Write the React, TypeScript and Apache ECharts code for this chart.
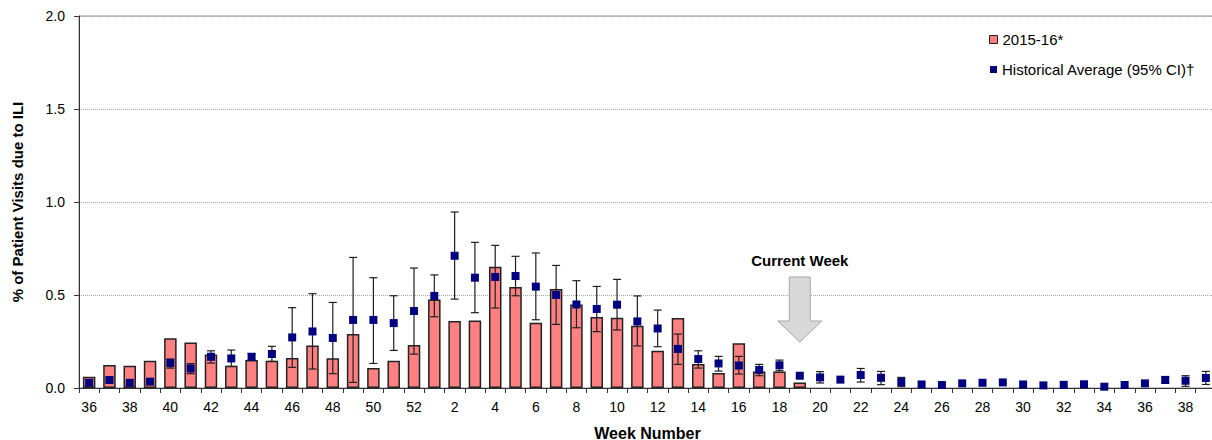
import React, { useEffect, useRef } from "react";
import * as echarts from "echarts";

const FONT = "'Liberation Sans', Arial, sans-serif";

// Week numbers: 2015 weeks 36-52, then 2016 weeks 1-39
const weeks: number[] = [
  36, 37, 38, 39, 40, 41, 42, 43, 44, 45, 46, 47, 48, 49, 50, 51, 52,
  1, 2, 3, 4, 5, 6, 7, 8, 9, 10, 11, 12, 13, 14, 15, 16, 17, 18, 19, 20,
  21, 22, 23, 24, 25, 26, 27, 28, 29, 30, 31, 32, 33, 34, 35, 36, 37, 38, 39,
];
const categories: string[] = weeks.map((w, i) => (i < 17 ? `2015-W${w}` : `2016-W${w}`));

// 2015-16 season (% of visits due to ILI)
const season: (number | null)[] = [
  0.06, 0.124, 0.12, 0.147, 0.267, 0.245, 0.18, 0.12, 0.15, 0.147, 0.161, 0.229, 0.16, 0.29, 0.107, 0.147, 0.231,
  0.476, 0.36, 0.363, 0.652, 0.543, 0.351, 0.532, 0.449, 0.382, 0.378, 0.335, 0.2, 0.376, 0.129, 0.081, 0.24,
  0.089, 0.089, 0.029,
  null, null, null, null, null, null, null, null, null, null, null, null, null, null, null, null, null, null, null, null,
];

// Historical average
const histAvg: number[] = [
  0.028, 0.043, 0.028, 0.034, 0.134, 0.105, 0.168, 0.159, 0.168, 0.183, 0.272, 0.304, 0.269, 0.366, 0.366, 0.349, 0.414,
  0.495, 0.711, 0.593, 0.597, 0.602, 0.545, 0.5, 0.449, 0.425, 0.448, 0.358, 0.32, 0.21, 0.156, 0.132, 0.121, 0.097,
  0.122, 0.066, 0.057, 0.045, 0.07, 0.055, 0.032, 0.019, 0.016, 0.025, 0.028, 0.03, 0.019, 0.014, 0.017, 0.02, 0.007,
  0.016, 0.025, 0.043, 0.039, 0.054,
];

// 95% CI lower / upper bounds (null = not shown)
const ciLow: (number | null)[] = [
  null, 0.03, null, null, 0.107, 0.077, 0.134, 0.116, 0.152, 0.143, 0.111, 0.102, 0.077, 0.03, 0.132, 0.202, 0.182,
  0.383, 0.478, 0.405, 0.43, 0.496, 0.367, 0.342, 0.324, 0.303, 0.312, 0.226, 0.222, 0.127, 0.107, 0.091, 0.075, 0.066,
  0.093, null, 0.027, null, 0.032, 0.018, 0.007, null, null, null, null, null, null, null, null, null, null,
  null, null, 0.025, 0.009, 0.019,
];
const ciHigh: (number | null)[] = [
  null, 0.058, null, null, 0.156, 0.131, 0.2, 0.204, 0.184, 0.224, 0.432, 0.507, 0.46, 0.702, 0.593, 0.496, 0.645,
  0.608, 0.946, 0.783, 0.767, 0.708, 0.726, 0.659, 0.577, 0.546, 0.584, 0.495, 0.419, 0.29, 0.2, 0.17, 0.17, 0.127,
  0.15, null, 0.088, null, 0.105, 0.089, 0.057, null, null, null, null, null, null, null, null, null, null,
  null, null, 0.062, 0.066, 0.089,
];

const yTicks = [0, 0.5, 1.0, 1.5, 2.0];
const currentWeekIndex = 35; // 2016 week 19

const SEASON_NAME = "2015-16*";
const HIST_NAME = "Historical Average (95% CI)\u2020";

export default function App() {
  const ref = useRef<HTMLDivElement>(null);

  useEffect(() => {
    if (!ref.current) return;
    const chart = echarts.init(ref.current, undefined, { renderer: "svg" });

    const ciData: number[][] = [];
    ciLow.forEach((lo, i) => {
      const hi = ciHigh[i];
      if (lo != null && hi != null) ciData.push([i, lo, hi]);
    });

    const option: any = {
      animation: false,
      textStyle: { fontFamily: FONT },
      grid: {
        left: 79,
        right: -4,
        top: 16,
        bottom: 52,
        outerBoundsMode: "none",
        containLabel: false,
        show: true,
        borderColor: "#8c8c8c",
        borderWidth: 1,
        backgroundColor: "transparent",
      },
      legend: [
        {
          orient: "vertical",
          left: 989,
          top: 32,
          padding: 0,
          itemWidth: 8,
          itemHeight: 8,
          icon: "rect",
          textStyle: { fontSize: 15, color: "#000", fontFamily: FONT },
          data: [
            {
              name: SEASON_NAME,
              itemStyle: { color: "#FF8080", borderColor: "#222", borderWidth: 1 },
            },
          ],
        },
        {
          orient: "vertical",
          left: 990,
          top: 62,
          padding: 0,
          itemWidth: 7,
          itemHeight: 7,
          icon: "rect",
          textStyle: { fontSize: 15, color: "#000", fontFamily: FONT },
          data: [{ name: HIST_NAME, itemStyle: { color: "#000080", borderWidth: 0 } }],
        },
      ],
      xAxis: {
        type: "category",
        data: categories,
        boundaryGap: true,
        axisLine: { show: true, lineStyle: { color: "#333", width: 1 } },
        axisTick: { show: true, interval: 0, length: 5, lineStyle: { color: "#333" } },
        axisLabel: {
          interval: 1,
          formatter: (_v: string, i: number) => String(weeks[i]),
          fontSize: 14,
          color: "#000",
          margin: 12,
          fontFamily: FONT,
        },
        splitLine: { show: false },
        name: "Week Number",
        nameLocation: "middle",
        nameGap: 37,
        nameTextStyle: { fontSize: 16, fontWeight: "bold", color: "#000", fontFamily: FONT },
      },
      yAxis: {
        type: "value",
        min: yTicks[0],
        max: yTicks[yTicks.length - 1],
        interval: 0.5,
        axisLine: { show: true, lineStyle: { color: "#333", width: 1 } },
        axisTick: { show: true, length: 5, lineStyle: { color: "#333" } },
        axisLabel: {
          formatter: (v: number) => v.toFixed(1),
          fontSize: 14,
          color: "#000",
          margin: 14,
          fontFamily: FONT,
        },
        splitLine: { show: true, lineStyle: { color: "#a8a8a8", type: [1, 1], width: 1 } },
        name: "% of Patient Visits due to ILI",
        nameLocation: "middle",
        nameGap: 54,
        nameTextStyle: { fontSize: 15, fontWeight: "bold", color: "#000", fontFamily: FONT },
      },
      series: [
        {
          name: SEASON_NAME,
          type: "bar",
          data: season,
          barWidth: 12.5,
          z: 2,
          itemStyle: { color: "#FF8080", borderColor: "#222", borderWidth: 1.5 },
        },
        {
          name: "CI",
          type: "custom",
          z: 3,
          data: ciData,
          encode: { x: 0, y: [1, 2] },
          renderItem: (_params: any, api: any) => {
            const idx = api.value(0);
            const lo = api.coord([idx, api.value(1)]);
            const hi = api.coord([idx, api.value(2)]);
            const x = lo[0];
            const cap = 4;
            const style = { stroke: "#1f1f1f", lineWidth: 1.2 };
            return {
              type: "group",
              children: [
                { type: "line", shape: { x1: x, y1: lo[1], x2: x, y2: hi[1] }, style },
                { type: "line", shape: { x1: x - cap, y1: lo[1], x2: x + cap, y2: lo[1] }, style },
                { type: "line", shape: { x1: x - cap, y1: hi[1], x2: x + cap, y2: hi[1] }, style },
              ],
            };
          },
        },
        {
          name: HIST_NAME,
          type: "scatter",
          data: histAvg,
          symbol: "rect",
          symbolSize: 8,
          z: 4,
          itemStyle: { color: "#000080", opacity: 1 },
        },
      ],
    };

    chart.setOption(option);

    const cx = chart.convertToPixel({ xAxisIndex: 0 }, categories[currentWeekIndex]) as number;
    const sw = 10.5;
    const hw = 22;
    chart.setOption({
      graphic: [
        {
          type: "text",
          x: cx,
          y: 260,
          style: {
            text: "Current Week",
            font: `bold 15px ${FONT}`,
            fill: "#000",
            textAlign: "center",
            textVerticalAlign: "middle",
          },
          z: 10,
        },
        {
          type: "polygon",
          shape: {
            points: [
              [cx - sw, 277],
              [cx + sw, 277],
              [cx + sw, 321],
              [cx + hw, 321],
              [cx, 342],
              [cx - hw, 321],
              [cx - sw, 321],
            ],
          },
          style: { fill: "#d9d9d9", stroke: "#a6a6a6", lineWidth: 1 },
          z: 10,
        },
      ],
    });

    return () => chart.dispose();
  }, []);

  return (
    <div
      ref={ref}
      style={{ position: "fixed", left: 0, top: 0, width: 1212, height: 440, background: "#fff" }}
    />
  );
}
